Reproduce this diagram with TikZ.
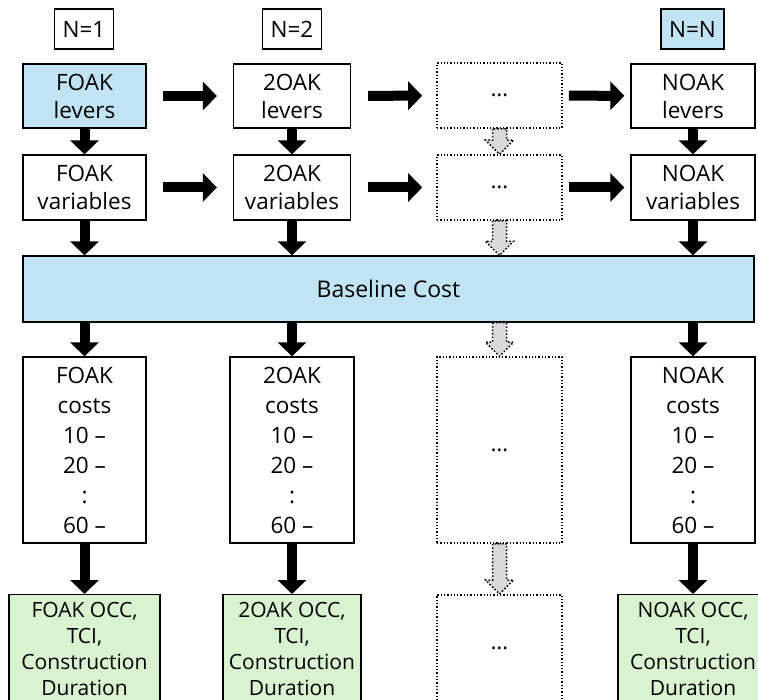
\documentclass[tikz,border=0pt]{standalone}
\usepackage{fontspec}
\setmainfont{Open Sans}
\usetikzlibrary{arrows.meta, calc}
\definecolor{paleblue}{HTML}{C1E4F5}
\definecolor{palegreen}{HTML}{D9F2D0}

\begin{document}
\begin{tikzpicture}[x=1pt, y=-1pt,
  box/.style={draw, line width=1.3pt, align=center, inner sep=0pt, font=\fontsize{22.5}{28}\selectfont},
  dotbox/.style={box, dotted, line width=1.6pt},
  costbox/.style={box, minimum height=186, font=\fontsize{22.5}{30}\selectfont},
  outbox/.style={box, fill=palegreen, anchor=north, minimum height=108, font=\fontsize{21}{26}\selectfont},
  lbl/.style={draw, line width=1.3pt, inner xsep=8pt, minimum height=40, font=\fontsize{22.5}{26}\selectfont},
  blk/.style={line width=10pt, -{Triangle[length=14pt, width=28pt]}},
  grayarr/.style={draw, dotted, line width=1.5pt, fill=gray!30}]
\useasboundingbox (0,0) rectangle (758,700);

% step labels
\node[lbl] (n1) at (84,29) {N=1};
\node[lbl] (n2) at (292,29) {N=2};
\node[lbl, fill=paleblue] (nn) at (692.5,29) {N=N};

% levers
\node[box, fill=paleblue, minimum width=123, minimum height=64] (l1) at (84.5,96) {FOAK\\levers};
\node[box, minimum width=117, minimum height=64] (l2) at (292,96) {2OAK\\levers};
\node[dotbox, minimum width=125, minimum height=65] (l3) at (499.5,95.5) {…};
\node[box, minimum width=124, minimum height=64] (l4) at (693,96) {NOAK\\levers};

% variables
\node[box, minimum width=123, minimum height=65] (v1) at (84.5,187.5) {FOAK\\variables};
\node[box, minimum width=117, minimum height=65] (v2) at (292,187.5) {2OAK\\variables};
\node[dotbox, minimum width=125, minimum height=65] (v3) at (499.5,187.5) {…};
\node[box, minimum width=124, minimum height=65] (v4) at (693,187.5) {NOAK\\variables};

% baseline
\node[box, fill=paleblue, minimum width=731, minimum height=66, font=\fontsize{23}{28}\selectfont] (base) at (388.5,289) {Baseline Cost};

% costs
\node[costbox, minimum width=123] (c1) at (84.5,450) {FOAK\\costs\\10 –\\20 –\\:\\60 –};
\node[costbox, minimum width=124] (c2) at (292,450) {2OAK\\costs\\10 –\\20 –\\:\\60 –};
\node[dotbox, minimum width=125, minimum height=186] (c3) at (499.5,450) {…};
\node[costbox, minimum width=124] (c4) at (693,450) {NOAK\\costs\\10 –\\20 –\\:\\60 –};

% outputs
\node[outbox, minimum width=151] (o1) at (84.5,594) {FOAK OCC,\\TCI,\\Construction\\Duration};
\node[outbox, minimum width=138] (o2) at (292,594) {2OAK OCC,\\TCI,\\Construction\\Duration};
\node[dotbox, anchor=north, minimum width=125, minimum height=108] (o3) at (499.5,594) {…};
\node[outbox, minimum width=150] (o4) at (693,594) {NOAK OCC,\\TCI,\\Construction\\Duration};

% across
\draw[blk, shorten <=16pt, shorten >=16pt] (l1) -- (l2);
\draw[blk, shorten <=17pt, shorten >=14pt] (l2) -- (l3);
\draw[blk, shorten <=6pt, shorten >=6pt] (l3) -- (l4);
\draw[blk, shorten <=16pt, shorten >=16pt] (v1) -- (v2);
\draw[blk, shorten <=17pt, shorten >=14pt] (v2) -- (v3);
\draw[blk, shorten <=6pt, shorten >=6pt] (v3) -- (v4);

% down
\draw[blk] (l1) -- (v1);
\draw[blk] (l2) -- (v2);
\draw[blk] (l4) -- (v4);
\draw[blk] (v1) -- (v1 |- base.north);
\draw[blk] (v2) -- (v2 |- base.north);
\draw[blk] (v4) -- (v4 |- base.north);
\draw[blk] (c1 |- base.south) -- (c1);
\draw[blk] (c2 |- base.south) -- (c2);
\draw[blk] (c4 |- base.south) -- (c4);
\draw[blk] (c1) -- (o1);
\draw[blk] (c2) -- (o2);
\draw[blk] (c4) -- (o4);

% dotted column
\coordinate (bt) at (v3.south |- base.north);
\coordinate (bb) at (c3.north |- base.south);
\foreach \s/\t in {l3.south/v3.north, v3.south/bt, bb/c3.north, c3.south/o3.north}
  \draw[grayarr] ($(\s)+(-7,0)$) -- ($(\t)+(-7,-14)$) -- ($(\t)+(-14,-14)$) -- (\t)
    -- ($(\t)+(14,-14)$) -- ($(\t)+(7,-14)$) -- ($(\s)+(7,0)$) -- cycle;
\end{tikzpicture}
\end{document}
